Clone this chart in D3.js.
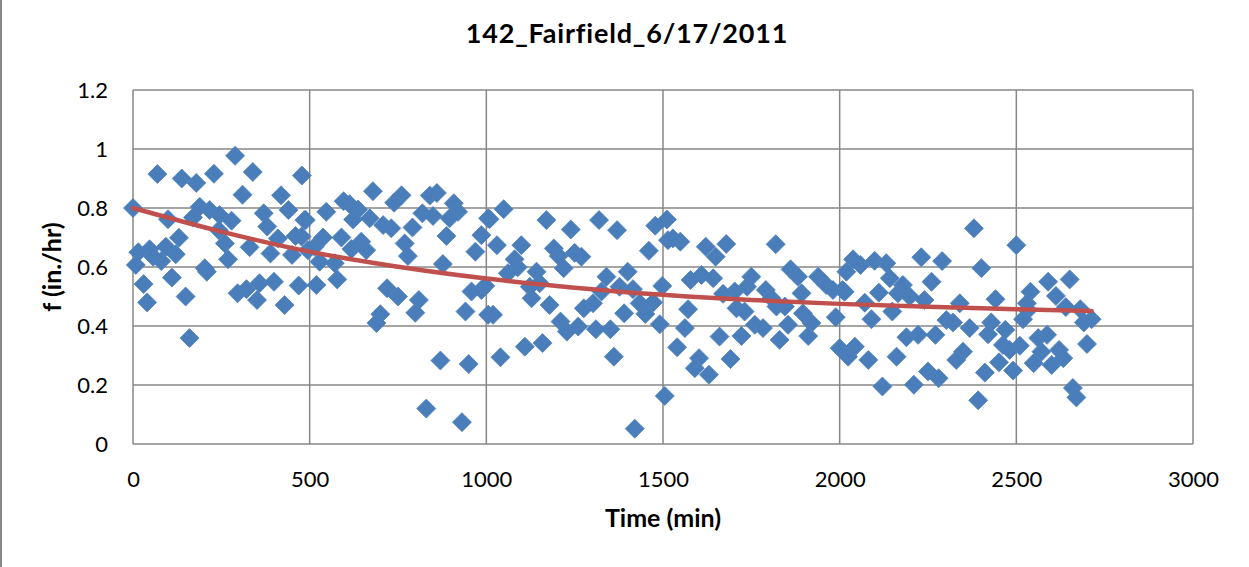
<!DOCTYPE html>
<html><head><meta charset="utf-8">
<script src="https://cdn.jsdelivr.net/npm/d3@7"></script>
<style>body{margin:0;background:#fff}svg{display:block}text{font-family:Lato,"Open Sans",sans-serif}</style>
</head><body><div id="chart"></div>
<script>
const title = "142_Fairfield_6/17/2011";
const xLabel = "Time (min)";
const yLabel = "f (in./hr)";
const xTicks = [0,500,1000,1500,2000,2500,3000];
const yTicks = [0,0.2,0.4,0.6,0.8,1.0,1.2];
const yTickLabels = ["0","0.2","0.4","0.6","0.8","1","1.2"];
// observed infiltration rate points [time(min), f(in./hr)]
const obsTime = [0,69,138,179,229,289,339,478,310,419,189,217,245,170,99,279,370,440,485,380,243,130,260,410,460,330,93,47,15,121,389,450,495,57,80,8,269,203,209,30,110,296,321,351,358,399,469,429,40,149,160,
679,760,739,840,860,596,613,908,637,547,920,1005,489,819,849,670,623,896,708,731,791,477,538,590,887,986,646,769,618,660,969,514,778,528,571,877,519,578,719,750,809,799,700,689,941,958,986,1005,870,950,830,931,
1049,1009,1170,1239,1319,1370,1478,1511,1514,1030,1099,1191,1250,1269,1205,1460,1080,1089,1219,1061,1142,1340,1400,997,1123,1151,1377,1415,1498,1128,1326,1302,1179,1276,1434,1472,1019,1390,1450,1210,1228,1260,1310,1351,1491,1040,1109,1159,1361,1505,1420,
1528,1549,1621,1649,1679,1819,1861,1882,1578,1609,1642,1750,1670,1703,1738,1791,1807,1892,1939,1962,1981,2008,2019,1571,1708,1731,1821,1845,1896,1562,1660,1722,1760,1783,1854,1920,1911,1830,1989,1540,1602,1590,1630,1691,2000,
2380,2500,2038,2059,2099,2132,2231,2290,2401,2142,2179,2260,2014,2111,2165,2198,2240,2071,2340,2441,2149,2090,2302,2321,2533,2519,2368,2429,2469,2189,2222,2271,2420,2043,2024,2081,2161,2349,2330,2462,2481,2510,2451,2491,2411,2250,2280,2210,2121,2392,
2590,2651,2540,2612,2530,2640,2681,2713,2691,2562,2587,2700,2571,2621,2633,2549,2600,2660,2670];
const obsRate = [0.80,0.915,0.90,0.885,0.916,0.977,0.922,0.91,0.845,0.843,0.804,0.793,0.776,0.768,0.762,0.757,0.782,0.793,0.759,0.737,0.725,0.699,0.68,0.697,0.705,0.667,0.669,0.66,0.65,0.643,0.646,0.641,0.657,0.635,0.62,0.607,0.626,0.596,0.584,0.542,0.564,0.511,0.525,0.488,0.545,0.55,0.537,0.471,0.48,0.50,0.359,
0.857,0.843,0.818,0.842,0.851,0.823,0.813,0.816,0.795,0.787,0.787,0.765,0.759,0.782,0.773,0.765,0.761,0.765,0.742,0.731,0.734,0.703,0.70,0.70,0.705,0.708,0.686,0.68,0.661,0.657,0.652,0.669,0.637,0.618,0.613,0.61,0.539,0.558,0.528,0.50,0.488,0.445,0.44,0.41,0.449,0.517,0.522,0.438,0.283,0.271,0.12,0.074,
0.796,0.762,0.759,0.727,0.759,0.725,0.74,0.761,0.691,0.674,0.674,0.663,0.648,0.635,0.637,0.655,0.626,0.599,0.596,0.579,0.584,0.567,0.584,0.536,0.533,0.545,0.533,0.525,0.536,0.494,0.517,0.477,0.471,0.46,0.477,0.48,0.438,0.443,0.441,0.415,0.381,0.398,0.389,0.389,0.406,0.294,0.33,0.342,0.296,0.163,0.052,
0.697,0.686,0.669,0.635,0.678,0.677,0.592,0.567,0.556,0.573,0.562,0.567,0.509,0.517,0.533,0.522,0.494,0.511,0.567,0.539,0.522,0.522,0.584,0.457,0.46,0.449,0.466,0.466,0.443,0.393,0.364,0.366,0.404,0.393,0.404,0.41,0.366,0.353,0.43,0.328,0.291,0.257,0.235,0.288,0.325,
0.731,0.674,0.626,0.607,0.621,0.613,0.633,0.62,0.596,0.562,0.539,0.55,0.516,0.513,0.511,0.50,0.488,0.479,0.477,0.491,0.449,0.423,0.42,0.412,0.454,0.423,0.393,0.412,0.387,0.362,0.37,0.37,0.372,0.33,0.296,0.285,0.296,0.313,0.285,0.336,0.319,0.333,0.277,0.249,0.242,0.246,0.223,0.201,0.195,0.148,
0.55,0.558,0.516,0.502,0.477,0.464,0.457,0.423,0.412,0.359,0.37,0.339,0.313,0.319,0.291,0.274,0.268,0.19,0.158];
// trend curve
const trendTime = [0,250,500,750,1000,1250,1500,1750,2000,2250,2500,2713];
const trendRate = [0.80,0.72,0.652,0.601,0.561,0.53,0.506,0.488,0.475,0.465,0.457,0.451];

const W = 1249, H = 567;
const m = {left:133, right:56, top:90, bottom:123};
const svg = d3.select("#chart").append("svg").attr("width",W).attr("height",H);
const x = d3.scaleLinear().domain([0,3000]).range([m.left, W-m.right]);
const y = d3.scaleLinear().domain([0,1.2]).range([H-m.bottom, m.top]);
const grid = "#878787";

// chart border (left side visible)
svg.append("line").attr("x1",1).attr("x2",1).attr("y1",0).attr("y2",H).attr("stroke",grid).attr("stroke-width",2);

// gridlines
svg.append("g").selectAll("line").data(yTicks).join("line")
  .attr("x1",x(0)).attr("x2",x(3000)).attr("y1",d=>y(d)).attr("y2",d=>y(d))
  .attr("stroke",grid).attr("stroke-width",1.5);
svg.append("g").selectAll("line").data(xTicks).join("line")
  .attr("y1",y(0)).attr("y2",y(1.2)).attr("x1",d=>x(d)).attr("x2",d=>x(d))
  .attr("stroke",grid).attr("stroke-width",1.5);

// axes (labels only)
const xa = svg.append("g").attr("transform",`translate(0,${y(0)})`)
  .call(d3.axisBottom(x).tickValues(xTicks).tickSize(0).tickPadding(27).tickFormat(d3.format("d")));
const ya = svg.append("g").attr("transform",`translate(${x(0)},0)`)
  .call(d3.axisLeft(y).tickValues(yTicks).tickSize(0).tickPadding(25).tickFormat((d,i)=>yTickLabels[i]));
[xa,ya].forEach(a=>{a.select(".domain").remove();a.selectAll("text").attr("font-size",22).attr("fill","#000").style("font-family","Lato,'Open Sans',sans-serif");});

// points
const pts = obsTime.map((t,i)=>[t,obsRate[i]]);
const r = 9.5;
svg.append("g").selectAll("path").data(pts).join("path")
  .attr("d",d=>{const cx=x(d[0]),cy=y(d[1]);return `M${cx},${cy-r}L${cx+r},${cy}L${cx},${cy+r}L${cx-r},${cy}Z`;})
  .attr("fill","#4A7EBB").attr("stroke","#4F81BD").attr("stroke-width",0.8);

// trend line
const tr = trendTime.map((t,i)=>[t,trendRate[i]]);
svg.append("path").datum(tr)
  .attr("d",d3.line().x(d=>x(d[0])).y(d=>y(d[1])).curve(d3.curveMonotoneX))
  .attr("fill","none").attr("stroke","#C0504D").attr("stroke-width",4.5).attr("stroke-linecap","round");

// titles
svg.append("text").attr("x",627).attr("y",43).attr("text-anchor","middle")
  .attr("font-size",27).attr("letter-spacing",0.8).attr("font-weight","bold").text(title);
svg.append("text").attr("x",663).attr("y",527).attr("text-anchor","middle")
  .attr("font-size",25).attr("font-weight","bold").text(xLabel);
svg.append("text").attr("transform",`translate(61,${(y(0)+y(1.2))/2}) rotate(-90)`).attr("text-anchor","middle")
  .attr("font-size",25).attr("font-weight","bold").text(yLabel);
</script></body></html>
